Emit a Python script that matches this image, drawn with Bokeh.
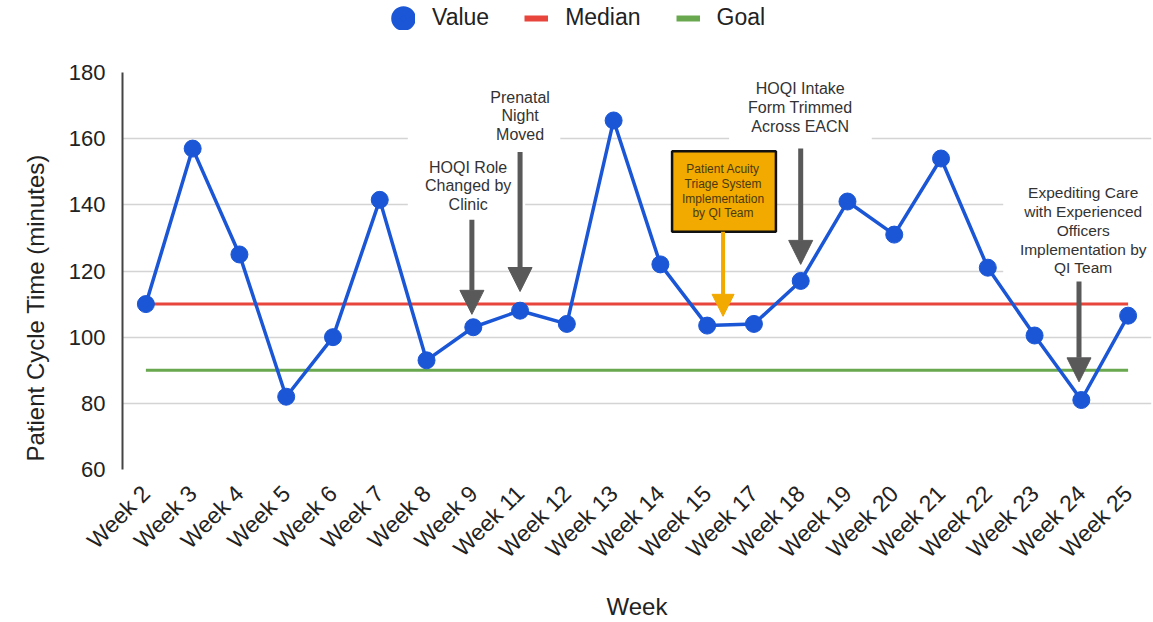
import math
from bokeh.plotting import figure
from bokeh.layouts import column
from bokeh.models import (Range1d, FactorRange, FixedTicker, Legend, LegendItem,
                          Arrow, NormalHead, ColumnDataSource, Title)
from bokeh.core.properties import value
from bokeh.embed import file_html
from bokeh.resources import INLINE

# ---------------- data ----------------
weeks = ["Week 2", "Week 3", "Week 4", "Week 5", "Week 6", "Week 7", "Week 8",
         "Week 9", "Week 11", "Week 12", "Week 13", "Week 14", "Week 15",
         "Week 17", "Week 18", "Week 19", "Week 20", "Week 21", "Week 22",
         "Week 23", "Week 24", "Week 25"]
cycle_time = [110, 157, 125, 82, 100, 141.5, 93, 103, 108, 104, 165.5, 122,
              103.5, 104, 117, 141, 131, 154, 121, 100.5, 81, 106.5]
median = [110, 110, 110, 110, 110, 110, 110, 110, 110, 110, 110, 110,
          110, 110, 110, 110, 110, 110, 110, 110, 110, 110]
goal = [90, 90, 90, 90, 90, 90, 90, 90, 90, 90, 90, 90,
        90, 90, 90, 90, 90, 90, 90, 90, 90, 90]
y_ticks = [60, 80, 100, 120, 140, 160, 180]

# annotations (x in category-synthetic units, y in minutes)
note_texts = ["HOQI Role\nChanged by\nClinic",
              "Prenatal\nNight\nMoved",
              "HOQI Intake\nForm Trimmed\nAcross EACN",
              "Expediting Care\nwith Experienced\nOfficers\nImplementation by\nQI Team"]
note_x = [7.39, 8.5, 14.49, 20.54]
note_y = [145.7, 166.9, 169.4, 132.3]
note_size = ["16px", "16px", "16px", "15.5px"]
box_left = [6.10, 7.65, 12.97, 18.83]
box_right = [8.61, 9.36, 16.02, 22.2]
box_top = [161.4, 178.2, 181.0, 148.1]
box_bottom = [137.3, 156.5, 158.0, 117.7]
arrow_x = [7.47, 8.5, 14.5, 20.45]
arrow_y_start = [135.5, 156.0, 157.0, 116.8]
arrow_y_end = [106.9, 113.8, 122.0, 86.5]

qi_text = ["Patient Acuity\nTriage System\nImplementation\nby QI Team"]
qi_x = [12.84]
qi_y = [144.1]
qi_left = [11.75]
qi_right = [13.97]
qi_top = [156.2]
qi_bottom = [131.9]
qi_arrow_y_start = 131.9
qi_arrow_y_end = 106.3

FONT = "Liberation Sans"
BLUE = "#1a56d6"
RED = "#e8453c"
GREEN = "#6aa84f"
GRAY = "#595959"
ORANGE = "#f2a900"
TXT = "#222222"
Y_TITLE = "Patient Cycle Time (minutes)"

src = ColumnDataSource(dict(week=weeks, value=cycle_time, median=median, goal=goal))
notes = ColumnDataSource(dict(x=note_x, y=note_y, text=note_texts, size=note_size))

x_range = FactorRange(factors=weeks, range_padding=0)
y_range = Range1d(60, 180)

p = figure(width=1153, height=586, x_range=x_range, y_range=y_range,
           output_backend="svg", toolbar_location=None,
           min_border_left=122, min_border_right=2,
           min_border_top=36, min_border_bottom=151)

p.outline_line_color = None
p.xgrid.grid_line_color = None
p.ygrid.grid_line_color = "#d4d4d4"
p.ygrid.grid_line_width = 1.5
p.ygrid.ticker = FixedTicker(ticks=y_ticks)

p.yaxis.ticker = FixedTicker(ticks=y_ticks)
p.yaxis.axis_line_color = "#444444"
p.yaxis.axis_line_width = 2
p.yaxis.major_tick_line_color = None
p.yaxis.minor_tick_line_color = None
p.yaxis.major_label_text_font = FONT
p.yaxis.major_label_text_font_size = "22px"
p.yaxis.major_label_text_color = TXT
p.yaxis.major_label_standoff = 11

# y-axis title: start it near the bottom of the axis, as in the reference
use_axis_label = True
try:
    p.yaxis.axis_label_align = "left"
except Exception:
    use_axis_label = False

if use_axis_label:
    p.yaxis.axis_label = Y_TITLE
    p.yaxis.axis_label_text_font = FONT
    p.yaxis.axis_label_text_font_size = "24px"
    p.yaxis.axis_label_text_font_style = "normal"
    p.yaxis.axis_label_text_color = TXT
    p.yaxis.axis_label_standoff = 36
else:
    ytitle = Title(text=Y_TITLE, align="left", offset=8, vertical_align="top",
                   text_font=FONT, text_font_size="24px",
                   text_font_style="normal", text_color=TXT, standoff=29)
    p.add_layout(ytitle, "left")

p.xaxis.axis_line_color = None
p.xaxis.major_tick_line_color = None
p.xaxis.minor_tick_line_color = None
p.xaxis.major_label_orientation = math.pi / 4
p.xaxis.major_label_text_font = FONT
p.xaxis.major_label_text_font_size = "23px"
p.xaxis.major_label_text_color = TXT
p.xaxis.major_label_standoff = 14
p.xaxis.axis_label = "Week"
p.xaxis.axis_label_text_font = FONT
p.xaxis.axis_label_text_font_size = "24px"
p.xaxis.axis_label_text_font_style = "normal"
p.xaxis.axis_label_text_color = TXT
p.xaxis.axis_label_standoff = 18

# white annotation boxes (cover gridlines)
p.quad(left=box_left, right=box_right, top=box_top, bottom=box_bottom,
       fill_color="white", line_color=None)

p.line(x="week", y="median", source=src, line_width=3, color=RED)
p.line(x="week", y="goal", source=src, line_width=3, color=GREEN)
p.line(x="week", y="value", source=src, line_width=3.5, color=BLUE)
p.scatter(x="week", y="value", source=src, size=17, color=BLUE)

# annotation texts
p.text(x="x", y="y", text="text", source=notes, text_align="center",
       text_baseline="middle", text_font=value(FONT), text_font_size="size",
       text_line_height=1.1, text_color="#333333")

# orange box
p.quad(left=qi_left, right=qi_right, top=qi_top, bottom=qi_bottom,
       fill_color=ORANGE, line_color="#111111", line_width=2.5)
p.text(x=qi_x, y=qi_y, text=qi_text, text_align="center",
       text_baseline="middle", text_font=value(FONT), text_font_size="12px",
       text_line_height=1.05, text_color="#4a3a10")

for xa, ys, ye in zip(arrow_x, arrow_y_start, arrow_y_end):
    p.add_layout(Arrow(x_start=xa, y_start=ys, x_end=xa, y_end=ye,
                       line_color=GRAY, line_width=5,
                       end=NormalHead(size=24, fill_color=GRAY, line_color=GRAY)))
p.add_layout(Arrow(x_start=qi_x[0], y_start=qi_arrow_y_start, x_end=qi_x[0],
                   y_end=qi_arrow_y_end, line_color=ORANGE, line_width=4,
                   end=NormalHead(size=22, fill_color=ORANGE, line_color=ORANGE)))

# ---------------- legend strip ----------------
lf = figure(width=1153, height=36, x_range=x_range, y_range=y_range,
            output_backend="svg", toolbar_location=None, min_border=0,
            x_axis_location=None, y_axis_location=None)
lf.outline_line_color = None
lf.grid.visible = False
# legend-only renderers (zero-size / zero-length, invisible)
leg_val = lf.scatter(x="week", y="value", source=src, size=0, line_width=15,
                     color=BLUE)
leg_med = lf.segment(x0="week", y0="median", x1="week", y1="median", source=src,
                     line_width=6, color=RED, line_cap="butt")
leg_goal = lf.segment(x0="week", y0="goal", x1="week", y1="goal", source=src,
                      line_width=6, color=GREEN, line_cap="butt")
legend = Legend(items=[LegendItem(label="Value", renderers=[leg_val]),
                       LegendItem(label="Median", renderers=[leg_med]),
                       LegendItem(label="Goal", renderers=[leg_goal])],
                orientation="horizontal", glyph_width=24, glyph_height=24,
                label_standoff=17, spacing=35, padding=0, margin=0,
                label_text_font=FONT, label_text_font_size="23px",
                label_text_color=TXT, border_line_color=None,
                background_fill_alpha=0, location=(269, 5))
lf.add_layout(legend, "center")

layout = column(lf, p, spacing=0)
open("out.html", "w").write(file_html(layout, INLINE))
